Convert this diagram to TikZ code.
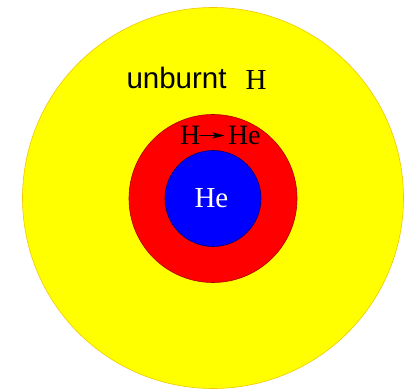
\documentclass[tikz,border=0pt]{standalone}
\usepackage{fontspec}
\setmainfont{Liberation Serif}
\newfontfamily\labelsans{Liberation Sans}
\usetikzlibrary{arrows.meta}
\definecolor{envfill}{RGB}{255,255,0}
\definecolor{burnfill}{RGB}{255,0,0}
\definecolor{corefill}{RGB}{0,0,255}
\definecolor{goldline}{RGB}{240,200,0}
\definecolor{redline}{RGB}{170,0,0}
\definecolor{blueline}{RGB}{0,0,110}
\tikzset{
  shell/.style={circle, inner sep=0pt, outer sep=0pt, line width=0.6pt},
  lbl/.style={inner sep=0pt, outer sep=0pt, anchor=base west, font=\fontsize{28}{31}\selectfont}
}
\begin{document}
\begin{tikzpicture}[x=1pt,y=-1pt]
\useasboundingbox (0,0) rectangle (410,390);
\node[shell, minimum size=381pt, fill=envfill, draw=goldline] (env) at (213,198) {};
\node[shell, minimum size=168pt, fill=burnfill, draw=redline] (burn) at (213,198.5) {};
\node[shell, minimum size=96pt, fill=corefill, draw=blueline] (core) at (213,198.5) {};
\node[lbl, font=\labelsans\fontsize{29.5}{32}\selectfont] (unb) at (126.5,88.5) {unburnt};
\node[lbl, font=\fontsize{29}{32}\selectfont] (uh) at (245.5,89.5) {H};
\node[lbl] (h1) at (180,145) {H};
\node[lbl] (he1) at (228,145) {He};
\coordinate (as) at (199,135.5);
\coordinate (ae) at (224.5,135.5);
\draw[line width=0.9pt, -{Stealth[length=12pt,width=6pt,inset=3pt]}] (as) -- (ae);
\node[lbl, text=white, font=\fontsize{29}{32}\selectfont] (core lbl) at (194.5,208) {He};
\end{tikzpicture}
\end{document}
